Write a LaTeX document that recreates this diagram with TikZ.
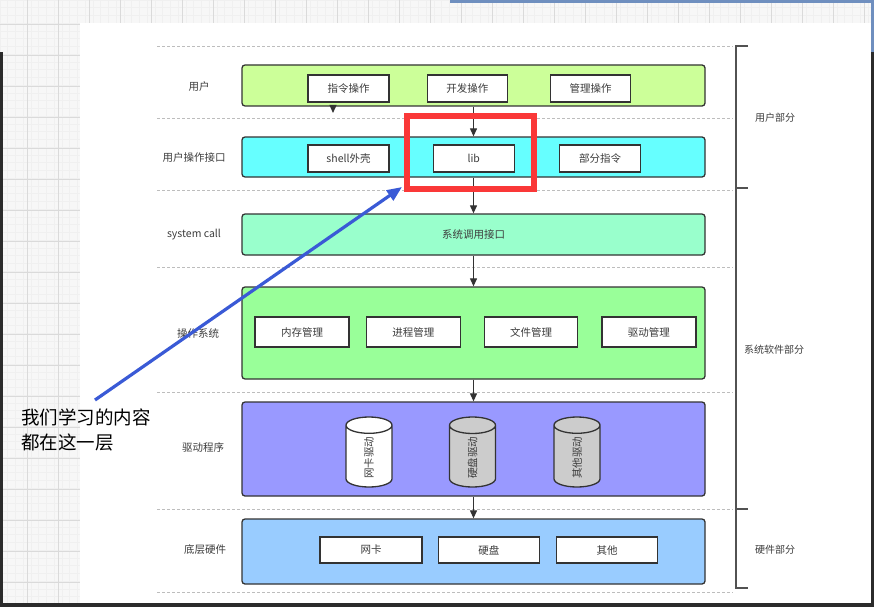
\documentclass[tikz,border=0pt]{standalone}
\usepackage{fontspec}
\newfontfamily\cjk{Noto Sans CJK SC}
\usepackage{xcolor}
\usepackage{tikz}
\usetikzlibrary{arrows.meta,positioning,shapes.geometric}
\definecolor{userGreen}{HTML}{CCFF99}
\definecolor{ifaceCyan}{HTML}{66FFFF}
\definecolor{callMint}{HTML}{99FFCC}
\definecolor{osGreen}{HTML}{99FF99}
\definecolor{drvBlue}{HTML}{9999FF}
\definecolor{hwBlue}{HTML}{99CCFF}
\definecolor{diskGray}{HTML}{CCCCCC}
\definecolor{lineDark}{HTML}{333333}
\definecolor{textGray}{HTML}{3C3C3C}
\definecolor{sepGray}{HTML}{BDBDBD}
\definecolor{markRed}{HTML}{FA3838}
\definecolor{noteBlue}{HTML}{3A5AD6}
\definecolor{frameDark}{HTML}{2B2B2B}
\definecolor{frameBlue}{HTML}{6F8FBF}
\definecolor{gridMinor}{HTML}{F0F0F0}
\definecolor{gridMajor}{HTML}{DADADA}
\tikzset{
  layer/.style={draw=lineDark, line width=1.3pt, rounded corners=3pt, minimum width=463pt, text=textGray, fill=#1},
  item/.style={draw=lineDark, line width=1.3pt, fill=white, inner sep=1pt, text=textGray},
  drum/.style={cylinder, draw=lineDark, line width=1.3pt, rotate=90, aspect=1.4, minimum width=46pt, minimum height=70pt, inner sep=1pt, text=textGray, fill=#1},
  rowlabel/.style={text=textGray},
  partlabel/.style={text=textGray, font=\cjk\fontsize{10}{12}\selectfont},
  arrflow/.style={-{Triangle[length=8pt,width=7pt]}, line width=1.2pt, draw=lineDark},
  notearrow/.style={-{Triangle[length=15pt,width=12pt]}, line width=3.2pt, draw=noteBlue},
  sepline/.style={draw=sepGray, line width=0.9pt, dash pattern=on 3pt off 2pt},
  brace/.style={draw=lineDark!85, line width=1.4pt},
}
\begin{document}
\begin{tikzpicture}[x=1pt, y=-1pt, font=\cjk\fontsize{10.5}{13}\selectfont]
\useasboundingbox (0,0) rectangle (874,607);

% editor background
\fill[white!97!black] (0,0) rectangle (874,607);
\foreach \g in {0,7.75,...,874} \draw[gridMinor, line width=0.8pt] (\g,0) -- (\g,607);
\foreach \g in {0,7.75,...,607} \draw[gridMinor, line width=0.8pt] (0,\g) -- (874,\g);
\foreach \g in {-4,27,...,874} \draw[gridMajor, line width=0.8pt] (\g,0) -- (\g,607);
\foreach \g in {-7,24,...,607} \draw[gridMajor, line width=0.8pt] (0,\g) -- (874,\g);
\fill[white] (80,23) rectangle (871,603);
\fill[frameBlue] (450,0) rectangle (874,3);
\fill[frameBlue] (871,0) rectangle (874,52);
\fill[frameDark] (871,52) rectangle (874,607);
\fill[frameDark] (0,52) rectangle (3,607);
\fill[frameDark] (0,603) rectangle (874,607);

% separators
\foreach \y in {46,118,190,267,392,509,592}
  \draw[sepline] (157,\y) -- (733,\y);

% layers
\node[layer=userGreen, minimum height=41pt] (user) at (473.5,85.5) {};
\node[layer=ifaceCyan, minimum height=40pt] (uif) at (473.5,157) {};
\node[layer=callMint, minimum height=41pt] (syscall) at (473.5,234.5) {系统调用接口};
\node[layer=osGreen, minimum height=92pt] (os) at (473.5,333) {};
\node[layer=drvBlue, minimum height=94pt] (drv) at (473.5,449) {};
\node[layer=hwBlue, minimum height=65pt] (hw) at (473.5,551.5) {};

\node[rowlabel] (lUser) at (199,87) {用户};
\node[rowlabel] (lIface) at (194,158) {用户操作接口};
\node[rowlabel] (lCall) at (194,234.5) {system call};
\node[rowlabel] (lOs) at (198,333) {操作系统};
\node[rowlabel] (lDrv) at (203,447) {驱动程序};
\node[rowlabel] (lHw) at (205,550) {底层硬件};

% user
\node[item, minimum width=81pt, minimum height=27pt] (cmdop) at (348.5,88.5) {指令操作};
\node[item, minimum width=80pt, minimum height=27pt, right=37pt of cmdop] (devop) {开发操作};
\node[item, minimum width=80pt, minimum height=27pt, right=42pt of devop] (mgmtop) {管理操作};

% user interface
\node[item, minimum width=81pt, minimum height=27pt] (shell) at (348.5,158.5) {shell外壳};
\node[item, minimum width=81pt, minimum height=27pt, right=43pt of shell] (lib) {lib};
\node[item, minimum width=81pt, minimum height=27pt, right=44pt of lib] (partcmd) {部分指令};

% kernel
\node[item, minimum width=94pt, minimum height=30pt] (mem) at (302,332) {内存管理};
\node[item, minimum width=94pt, minimum height=30pt, right=16pt of mem] (proc) {进程管理};
\node[item, minimum width=93pt, minimum height=30pt, right=23pt of proc] (file) {文件管理};
\node[item, minimum width=94pt, minimum height=30pt, right=23pt of file] (drvmgmt) {驱动管理};

% drivers
\node[drum=white, anchor=shape center] (nicdrv) at (369,452) {网卡驱动};
\node[drum=diskGray, anchor=shape center] (diskdrv) at (472.5,452) {硬盘驱动};
\node[drum=diskGray, anchor=shape center] (otherdrv) at (577,452) {其他驱动};

% hardware
\node[item, minimum width=102pt, minimum height=26pt] (nic) at (371,550) {网卡};
\node[item, minimum width=101pt, minimum height=26pt, right=15pt of nic] (disk) {硬盘};
\node[item, minimum width=101pt, minimum height=26pt, right=16pt of disk] (other) {其他};

% flow
\coordinate (stub) at (333,113);
\draw[arrflow] (user.south -| stub) -- (stub);
\draw[arrflow] (user) -- (uif);
\draw[arrflow] (uif) -- (syscall);
\draw[arrflow] (syscall) -- (os);
\draw[arrflow] (os) -- (drv);
\draw[arrflow] (drv) -- (hw);

% parts
\draw[brace] (748,46) -- (736,46) -- (736,588) -- (748,588);
\draw[brace] (736,188) -- (748,188);
\draw[brace] (736,509) -- (748,509);
\node[partlabel] (pUser) at (775,118) {用户部分};
\node[partlabel] (pSys) at (774,350) {系统软件部分};
\node[partlabel] (pHw) at (775,550) {硬件部分};

% highlight
\node[draw=markRed, line width=6pt, inner sep=0pt, minimum width=127pt, minimum height=73pt] (hilite) at (470.5,152.5) {};
\node[anchor=north west, align=left, inner sep=0pt, font=\cjk\fontsize{18.5}{25}\selectfont] (note) at (21,409) {我们学习的内容\\都在这一层};
\coordinate (notetail) at (95,400);
\coordinate (notehead) at (402,187);
\draw[notearrow] (notetail) -- (notehead);
\end{tikzpicture}
\end{document}
